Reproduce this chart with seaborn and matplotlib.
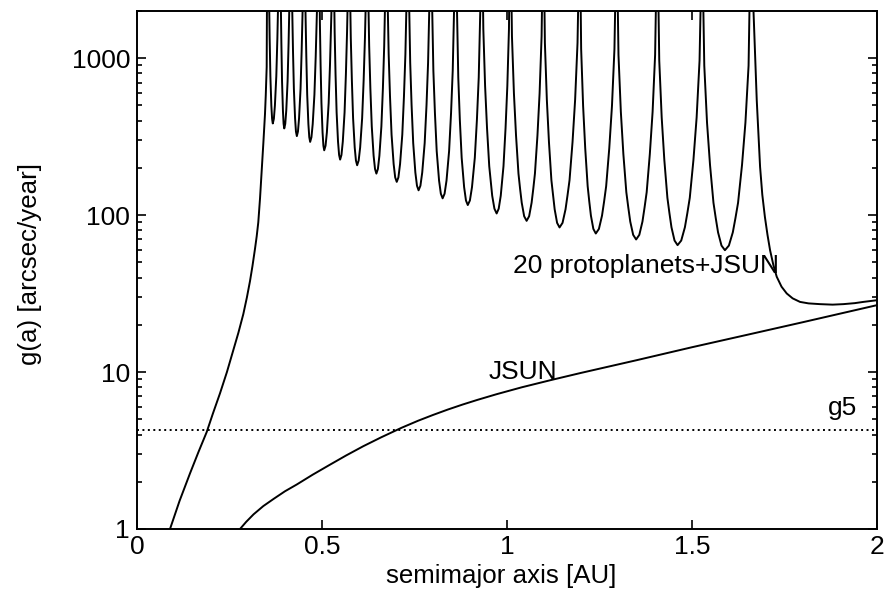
import numpy as np
import pandas as pd
import matplotlib
matplotlib.use("Agg")
import matplotlib.pyplot as plt
import seaborn as sns
from matplotlib.ticker import FixedLocator, LogLocator, NullFormatter, NullLocator

# ---------------- data ----------------
# curve "20 protoplanets+JSUN": g(a) with one singular spike per protoplanet
# (values of 3000 lie above the plotted range: the spikes run off the top)
proto_a = [
    # inner branch up to the first protoplanet
    0.0892, 0.115, 0.1432, 0.166, 0.1884, 0.205, 0.2243, 0.243, 0.2603, 0.274, 0.2873, 0.297,
    0.3054, 0.312, 0.3189, 0.3235, 0.3278, 0.3325, 0.337, 0.3415, 0.3459, 0.348, 0.3505, 0.3515,
    # valleys between protoplanets
    0.3565, 0.3569, 0.3585, 0.3605, 0.3618, 0.3631, 0.3651, 0.367, 0.3699, 0.3727, 0.3746, 0.3765, 0.3794, 0.3818, 0.3835,
    0.3885, 0.3886, 0.3902, 0.392, 0.3932, 0.3944, 0.3962, 0.398, 0.4007, 0.4034, 0.4052, 0.407, 0.4097, 0.412, 0.4135,
    0.4185, 0.4195, 0.4216, 0.424, 0.4256, 0.4272, 0.4296, 0.432, 0.435, 0.438, 0.440, 0.442, 0.445, 0.4476, 0.4495,
    0.4545, 0.4555, 0.4576, 0.460, 0.4616, 0.4632, 0.4656, 0.468, 0.4715, 0.4749, 0.4772, 0.4795, 0.483, 0.4859, 0.4885,
    0.4935, 0.4943, 0.4962, 0.4985, 0.500, 0.5015, 0.5038, 0.506, 0.5096, 0.5132, 0.5156, 0.518, 0.5216, 0.5247, 0.5275,
    0.5325, 0.5342, 0.5366, 0.5395, 0.5414, 0.5433, 0.5462, 0.549, 0.5526, 0.5562, 0.5586, 0.561, 0.5646, 0.5677, 0.5705,
    0.5755, 0.5778, 0.5807, 0.584, 0.5862, 0.5884, 0.5917, 0.595, 0.5991, 0.6031, 0.6058, 0.6085, 0.6126, 0.6161, 0.6195,
    0.6245, 0.6275, 0.6307, 0.6345, 0.637, 0.6395, 0.6433, 0.647, 0.6511, 0.6551, 0.6578, 0.6605, 0.6646, 0.6681, 0.6715,
    0.6765, 0.6802, 0.6838, 0.688, 0.6908, 0.6936, 0.6978, 0.702, 0.7065, 0.711, 0.714, 0.717, 0.7215, 0.7254, 0.7295,
    0.7345, 0.7384, 0.7421, 0.7465, 0.7494, 0.7523, 0.7567, 0.761, 0.766, 0.7709, 0.7742, 0.7775, 0.7825, 0.7867, 0.7915,
    0.7965, 0.801, 0.8052, 0.810, 0.8132, 0.8164, 0.8212, 0.826, 0.8313, 0.8365, 0.840, 0.8435, 0.8488, 0.8533, 0.8585,
    0.8635, 0.8683, 0.8725, 0.8775, 0.8808, 0.8841, 0.8891, 0.894, 0.8997, 0.9054, 0.9092, 0.913, 0.9187, 0.9236, 0.9295,
    0.9345, 0.936, 0.9408, 0.946, 0.952, 0.956, 0.960, 0.966, 0.972, 0.9776, 0.9831, 0.9868, 0.9905, 0.9961, 1.0009, 1.0053, 1.0065,
    1.0115, 1.0134, 1.0187, 1.0244, 1.031, 1.0354, 1.0398, 1.0464, 1.053, 1.0598, 1.0665, 1.071, 1.0755, 1.0823, 1.0881, 1.0935, 1.0955,
    1.1005, 1.1024, 1.1077, 1.1134, 1.120, 1.1244, 1.1288, 1.1354, 1.142, 1.1501, 1.1582, 1.1636, 1.169, 1.1771, 1.1841, 1.1906, 1.1935,
    1.1985, 1.2004, 1.2057, 1.2114, 1.218, 1.2224, 1.2268, 1.2334, 1.240, 1.2484, 1.2568, 1.2624, 1.268, 1.2764, 1.2837, 1.2904, 1.2935,
    1.2985, 1.3013, 1.3077, 1.3145, 1.3225, 1.3278, 1.3331, 1.341, 1.349, 1.3576, 1.3661, 1.3718, 1.3775, 1.386, 1.3935, 1.4003, 1.4035,
    1.4085, 1.4115, 1.4181, 1.4252, 1.4335, 1.439, 1.4445, 1.4528, 1.461, 1.4709, 1.4808, 1.4874, 1.494, 1.5039, 1.5125, 1.5204, 1.5245,
    1.5295, 1.5332, 1.5406, 1.5487, 1.558, 1.5642, 1.5704, 1.5797, 1.589, 1.5997, 1.6103, 1.6174, 1.6245, 1.6352, 1.6444, 1.6529, 1.6565,
    # outer tail beyond the last protoplanet
    1.6635, 1.675, 1.684, 1.69, 1.697, 1.704, 1.711, 1.72, 1.729, 1.742, 1.756, 1.772, 1.792, 1.815,
    1.846, 1.88, 1.909, 1.94, 1.963, 2.0,
]
proto_g = [
    1.0, 1.51, 2.26, 3.09, 4.15, 5.43, 7.32, 10.0, 13.8, 17.8, 23.4, 29.9,
    38.0, 47.3, 61.0, 73.3, 90, 128, 190, 288, 440, 580, 880, 3000,
    3000, 2496, 1344, 768, 614, 499, 411, 384, 411, 499, 614, 768, 1344, 2496, 3000,
    3000, 2321, 1250, 714, 571, 464, 382, 357, 382, 464, 571, 714, 1250, 2321, 3000,
    3000, 2074, 1117, 638, 510, 415, 341, 319, 341, 415, 510, 638, 1117, 2074, 3000,
    3000, 1905, 1026, 586, 469, 381, 314, 293, 314, 381, 469, 586, 1026, 1905, 3000,
    3000, 1684, 907, 518, 414, 337, 277, 259, 277, 337, 414, 518, 907, 1684, 3000,
    3000, 1469, 791, 452, 362, 294, 242, 226, 242, 294, 362, 452, 791, 1469, 3000,
    3000, 1352, 728, 416, 333, 270, 223, 208, 223, 270, 333, 416, 728, 1352, 3000,
    3000, 1196, 644, 368, 294, 239, 197, 184, 197, 239, 294, 368, 644, 1196, 3000,
    3000, 1060, 571, 326, 261, 212, 174, 163, 174, 212, 261, 326, 571, 1060, 3000,
    3000, 936, 504, 288, 230, 187, 154, 144, 154, 187, 230, 288, 504, 936, 3000,
    3000, 832, 448, 256, 205, 166, 137, 128, 137, 166, 205, 256, 448, 832, 3000,
    3000, 754, 406, 232, 186, 151, 124, 116, 124, 151, 186, 232, 406, 754, 3000,
    3000, 1538, 666, 359, 205, 164, 133, 110, 102.5, 110, 133, 164, 205, 359, 666, 1538, 3000,
    3000, 1380, 598, 322, 184, 147, 120, 98.4, 92, 98.4, 120, 147, 184, 322, 598, 1380, 3000,
    3000, 1253, 543, 292, 167, 134, 109, 89.3, 83.5, 89.3, 109, 134, 167, 292, 543, 1253, 3000,
    3000, 1146, 497, 267, 153, 122, 99.3, 81.7, 76.4, 81.7, 99.3, 122, 153, 267, 497, 1146, 3000,
    3000, 1050, 455, 245, 140, 112, 91, 74.9, 70.0, 74.9, 91, 112, 140, 245, 455, 1050, 3000,
    3000, 966, 419, 225, 129, 103, 83.7, 68.9, 64.4, 68.9, 83.7, 103, 129, 225, 419, 966, 3000,
    3000, 897, 389, 209, 120, 95.7, 77.7, 64.0, 59.8, 64.0, 77.7, 95.7, 120, 209, 389, 897, 3000,
    3000, 540, 203, 135, 97.5, 75, 59.8, 48, 40.5, 35, 31.7, 29.5, 28.0, 27.4,
    27.1, 26.9, 27.1, 27.5, 28.0, 28.7,
]

# curve "JSUN"
jsun_a = [0.2784, 0.295, 0.315, 0.3414, 0.37, 0.40, 0.4316, 0.475, 0.5216, 0.565, 0.6116, 0.66,
          0.7154, 0.76, 0.80, 0.84, 0.88, 0.92, 0.972, 1.04, 1.12, 1.20, 1.35, 1.50, 1.65, 1.80, 2.0]
jsun_g = [1.00, 1.11, 1.24, 1.40, 1.56, 1.74, 1.92, 2.22, 2.57, 2.94, 3.37, 3.84,
          4.42, 4.90, 5.33, 5.77, 6.21, 6.65, 7.23, 8.00, 8.91, 9.88, 11.9, 14.4, 17.3, 20.8, 26.7]

# g5 frequency (dotted line)
g5_value = 4.25
g5_span = [0.0, 2.0]

# axes ticks
x_ticks = [0, 0.5, 1, 1.5, 2]
x_tick_labels = ["0", "0.5", "1", "1.5", "2"]
y_ticks = [1, 10, 100, 1000]
y_tick_labels = ["1", "10", "100", "1000"]

# annotations: (text, a, g)
labels = [
    ("20 protoplanets+JSUN", 1.017, 42.5),
    ("JSUN", 0.9495, 9.09),
    ("g5", 1.868, 5.32),
]

# ---------------- plotting ----------------
sns.set_theme(style="ticks")
plt.rcParams["font.family"] = ["Liberation Sans", "DejaVu Sans"]
plt.rcParams["axes.edgecolor"] = "black"
plt.rcParams["axes.labelcolor"] = "black"
plt.rcParams["text.color"] = "black"
plt.rcParams["xtick.color"] = "black"
plt.rcParams["ytick.color"] = "black"

fig = plt.figure(figsize=(8.87, 6.01), dpi=100)
ax = fig.add_axes([137 / 887, 72 / 601, 740 / 887, 518 / 601])
ax.set_yscale("log")

proto_df = pd.DataFrame({"a": proto_a, "g": proto_g})
jsun_df = pd.DataFrame({"a": jsun_a, "g": jsun_g})
g5_df = pd.DataFrame({"a": g5_span, "g": [g5_value, g5_value]})

sns.lineplot(data=proto_df, x="a", y="g", sort=False, estimator=None,
             color="black", linewidth=1.4, ax=ax)
sns.lineplot(data=jsun_df, x="a", y="g", sort=False, estimator=None,
             color="black", linewidth=1.4, ax=ax)
sns.lineplot(data=g5_df, x="a", y="g", sort=False, estimator=None,
             color="black", linewidth=1.4, linestyle=(0, (1, 1.8)), ax=ax)

ax.set_xlim(0, 2)
ax.set_ylim(1, 2000)

ax.xaxis.set_major_locator(FixedLocator(x_ticks))
ax.set_xticklabels(x_tick_labels)
ax.xaxis.set_minor_locator(NullLocator())
ax.yaxis.set_major_locator(FixedLocator(y_ticks))
ax.set_yticklabels(y_tick_labels)
ax.yaxis.set_minor_locator(LogLocator(base=10, subs=np.arange(2, 10)))
ax.yaxis.set_minor_formatter(NullFormatter())

ax.tick_params(which="both", direction="in", top=True, right=True,
               labelsize=19, width=1.2, colors="black")
ax.tick_params(which="major", length=6.5)
ax.tick_params(which="minor", length=3.8)
ax.tick_params(axis="x", pad=4.5)
ax.tick_params(axis="y", pad=5)

for sp in ax.spines.values():
    sp.set_linewidth(1.4)
    sp.set_color("black")

ax.set_xlabel("semimajor axis [AU]", fontsize=18.6, color="black")
ax.set_ylabel("g(a) [arcsec/year]", fontsize=18.6, color="black")
ax.xaxis.set_label_coords(0.492, -0.068)
ax.yaxis.set_label_coords(-0.128, 0.512)

for txt, xa, yg in labels:
    ax.text(xa, yg, txt, fontsize=19, ha="left", va="baseline", color="black")

fig.savefig("out.png", dpi=100, facecolor="white")
